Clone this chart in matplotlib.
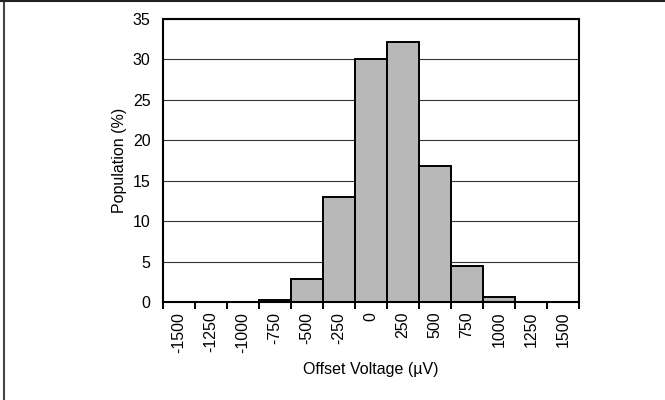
import matplotlib
matplotlib.use("Agg")
import matplotlib.pyplot as plt
from matplotlib.lines import Line2D
import numpy as np

plt.rcParams["font.family"] = ["Liberation Sans", "DejaVu Sans"]

# offset voltage bins (uV) and population (%)
bins = ["-1500", "-1250", "-1000", "-750", "-500", "-250", "0",
        "250", "500", "750", "1000", "1250", "1500"]
population = [0.0, 0.0, 0.05, 0.3, 2.9, 13.0, 30.1, 32.1, 16.8, 4.5, 0.6, 0.05, 0.0]
yticks = [0, 5, 10, 15, 20, 25, 30, 35]

FS = 11.5

fig = plt.figure(figsize=(6.65, 4.0), dpi=100)
ax = fig.add_axes([163 / 665, 1 - 302 / 400, 416 / 665, 283 / 400])

x = np.arange(len(bins))
ax.bar(x, population, width=1.0, color="#b8b8b8", edgecolor="black",
       linewidth=1.4, zorder=3)

ax.set_xlim(-0.5, len(bins) - 0.5)
ax.set_ylim(0, 35)
ax.set_yticks(yticks)
ax.yaxis.grid(True, color="#333333", linewidth=0.8, zorder=0)
ax.tick_params(axis="y", length=0, labelsize=FS, pad=9)

# labels centred on bars, tick marks on bin edges
ax.set_xticks(x)
ax.set_xticklabels(bins, rotation=90, fontsize=FS)
ax.tick_params(axis="x", which="major", length=0, pad=7)
ax.set_xticks(np.arange(len(bins) + 1) - 0.5, minor=True)
ax.tick_params(axis="x", which="minor", length=5, width=1.4, direction="out")

for s in ax.spines.values():
    s.set_linewidth(1.5)
    s.set_zorder(4)

ax.set_xlabel("Offset Voltage (\u00b5V)", fontsize=FS, labelpad=7)
ax.set_ylabel("Population (%)", fontsize=FS, labelpad=4)

# frame lines at top and left edge of the picture
fig.add_artist(Line2D([4 / 665, 4 / 665], [0, 1], color="#444444", linewidth=1.5))
fig.add_artist(Line2D([0, 1], [1 - 1 / 400, 1 - 1 / 400], color="#222222", linewidth=1.5))

fig.savefig("out.png", dpi=100)
